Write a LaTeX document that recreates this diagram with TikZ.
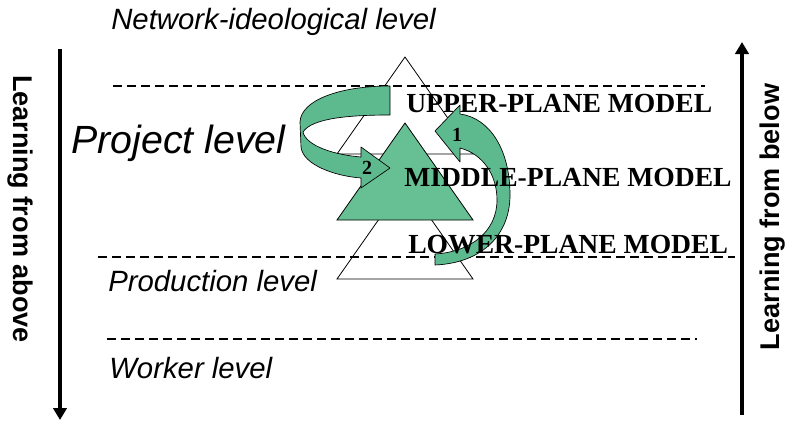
\documentclass[tikz,border=0pt]{standalone}
\usepackage{fontspec}
\setmainfont{Liberation Serif}
\setsansfont{Liberation Sans}
\usetikzlibrary{arrows.meta}
\definecolor{planegreen}{RGB}{102,192,148}
\definecolor{arrowgreen}{RGB}{92,186,142}
\begin{document}
\begin{tikzpicture}[x=0.75pt,y=-0.75pt,
  level/.style={anchor=base west,inner sep=0pt,font=\sffamily\itshape\fontsize{22}{24}\selectfont},
  plane/.style={anchor=base west,inner sep=0pt,font=\bfseries\fontsize{20.7}{22}\selectfont},
  side/.style={inner sep=0pt,font=\sffamily\bfseries\fontsize{20.3}{22}\selectfont},
  num/.style={inner sep=0pt,font=\bfseries\fontsize{15}{16}\selectfont},
  levelline/.style={line width=1.2pt,dash pattern=on 7pt off 3.5pt},
  tri/.style={line width=0.6pt},
  bent/.style={fill=arrowgreen,draw=black,line width=0.5pt,line join=round},
  learn/.style={line width=2.4pt,-{Triangle[width=10pt,length=9pt]}}]
\useasboundingbox (0,0) rectangle (790,422);
\foreach \xa/\xb/\y in {113/705/86, 98/735/257, 107/697/339}
  {\draw[levelline] (\xa,\y) -- (\xb,\y);}
\foreach \y in {57,182}
  {\draw[tri] (405,\y) -- (473,{\y+97}) -- (337,{\y+97}) -- cycle;}
\filldraw[tri,fill=planegreen] (405,123) -- (473,220) -- (337,220) -- cycle;
\draw[bent] (390,86) .. controls (340,86) and (301,100) .. (300,122) -- (301,147)
  .. controls (303,165) and (335,176) .. (361,178) -- (361,188) -- (390,168) -- (361,147) -- (361,157)
  .. controls (335,155) and (306,146) .. (303,132) .. controls (312,118) and (350,115) .. (390,115) -- cycle;
\draw[bent] (435,265) .. controls (482,263) and (510,235) .. (510,195)
  .. controls (510,150) and (490,118) .. (460,114) -- (460,105) -- (435,131) -- (460,162) -- (460,148)
  .. controls (483,154) and (497,175) .. (497,200) .. controls (497,232) and (470,252) .. (435,254) -- cycle;
\node[level] (network) at (111,29) {Network-ideological level};
\node[level,font=\sffamily\itshape\fontsize{29.5}{32}\selectfont] (project) at (71,153) {Project level};
\node[level] (production) at (108,291) {Production level};
\node[level] (worker) at (109,378) {Worker level};
\node[plane] (upper) at (406,112) {UPPER-PLANE MODEL};
\node[plane] (middle) at (404,186) {MIDDLE-PLANE MODEL};
\node[plane] (lower) at (408,253) {LOWER-PLANE MODEL};
\node[num] (one) at (457,135) {1};
\node[num] (two) at (367,168) {2};
\node[side,rotate=-90] (fromabove) at (20,209) {Learning from above};
\node[side,rotate=90] (frombelow) at (773,217) {Learning from below};
\coordinate (aboveTop) at (60,49);
\coordinate (aboveEnd) at (60,420);
\coordinate (belowTop) at (742,42);
\coordinate (belowEnd) at (742,415);
\draw[learn] (aboveTop) -- (aboveEnd);
\draw[learn] (belowEnd) -- (belowTop);
\end{tikzpicture}
\end{document}
